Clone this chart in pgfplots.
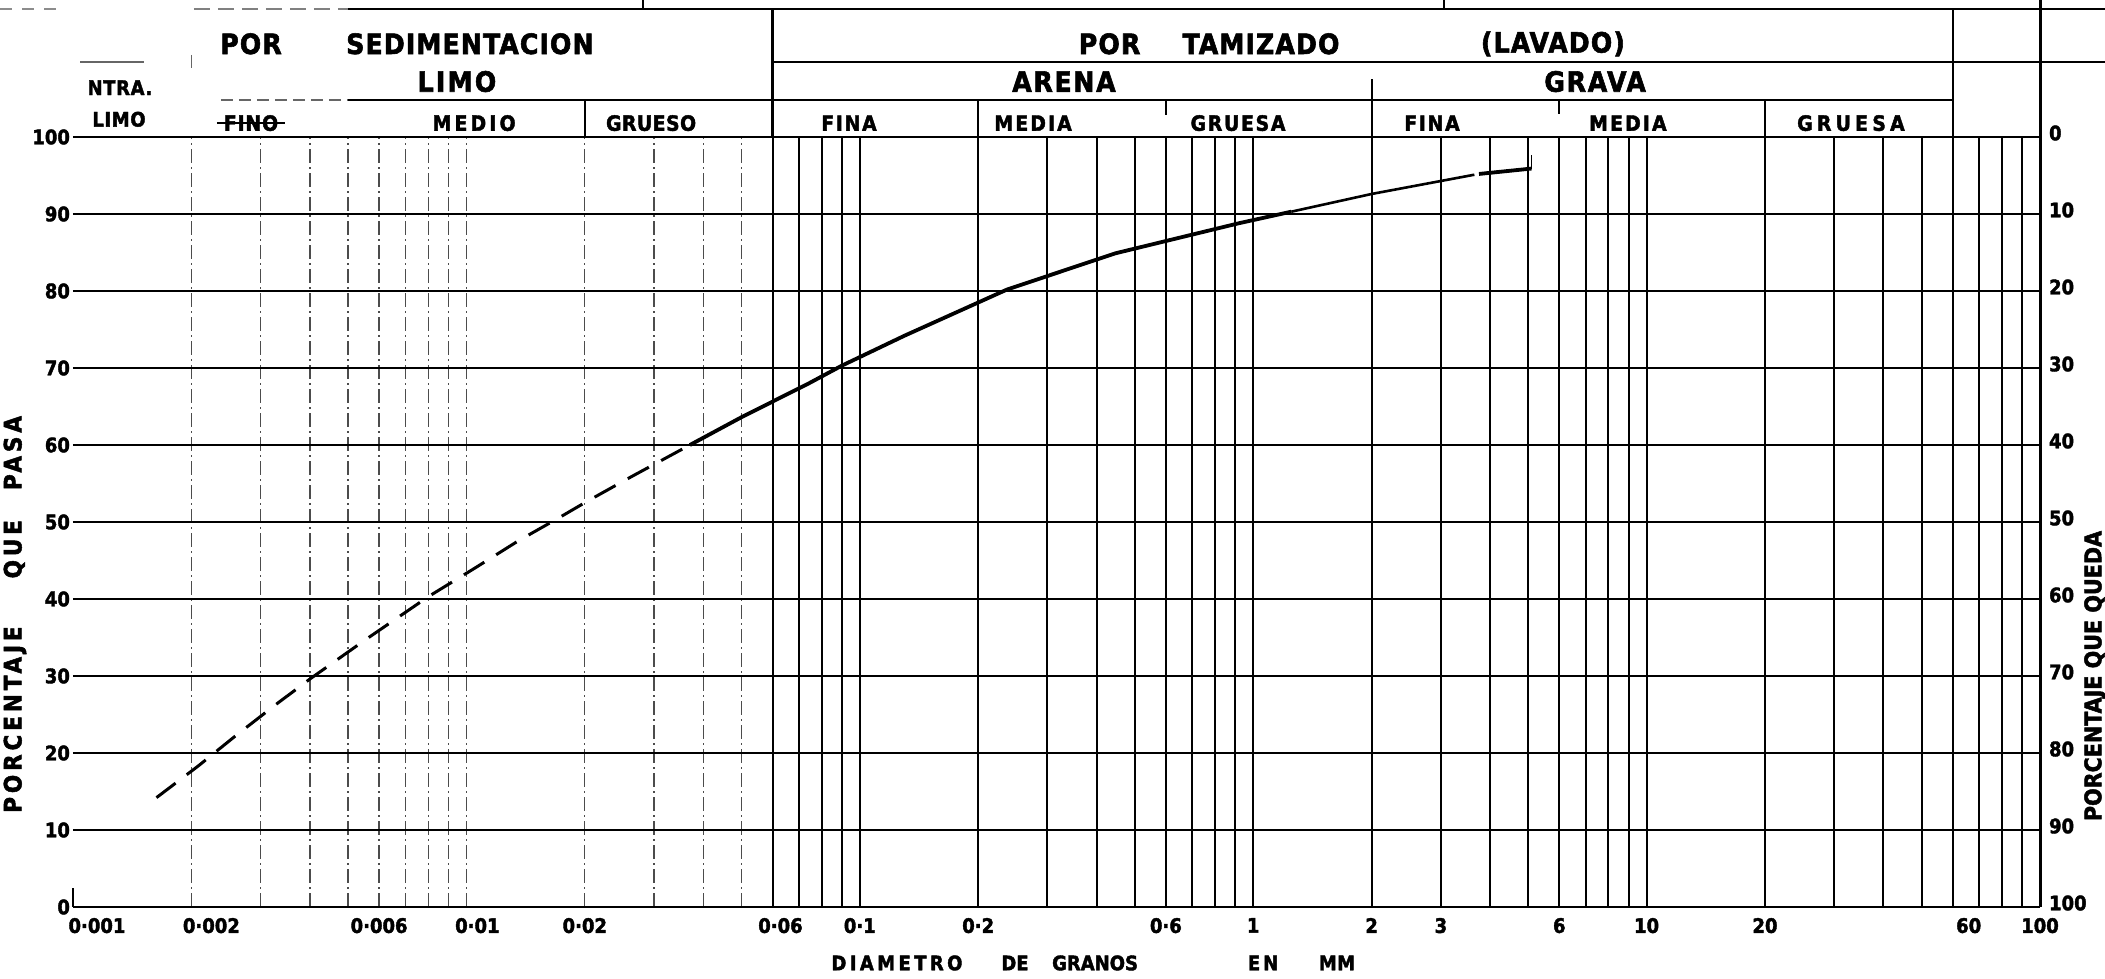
\documentclass[border=0pt]{standalone}
\usepackage{fontspec}
\setmainfont{DejaVu Sans}
\newfontfamily\cf{DejaVu Sans Condensed}
\usepackage{pgfplots}
\pgfplotsset{compat=1.18}
\usetikzlibrary{calc}

\newcommand\LT[3]{{\cf\fontsize{#1}{#1}\selectfont\bfseries\addfontfeatures{LetterSpace=#2,FakeBold=2}#3}}
\newcommand\tickfont{\cf\fontsize{10}{10}\selectfont\bfseries\addfontfeatures{FakeBold=2}}

\begin{document}
\begin{tikzpicture}
\begin{axis}[
  at={(0,0)}, anchor=south west,
  scale only axis, width=983.5pt, height=385pt,
  xmode=log, xmin=0.001, xmax=100, ymin=0, ymax=100,
  clip=false,
  axis x line*=bottom, axis y line*=left,
  axis line style={draw=none},
  major tick length=0pt, minor tick length=0pt,
  /pgf/number format/assume math mode=true,
  xtick={0.001,0.002,0.006,0.01,0.02,0.06,0.1,0.2,0.6,1,2,3,6,10,20,60,100},
  xticklabels={\hspace{24pt}0·001,\hspace{20pt}0·002,0·006,\hspace{11pt}0·01,0·02,\hspace{8pt}0·06,0·1\hspace{19pt},0·2\hspace{7pt},0·6,1\hspace{8pt},2\hspace{9pt},3\hspace{11pt},6\hspace{11pt},10,20,\hspace{16pt}60,100},
  xticklabel style={font=\tickfont, yshift=-2pt},
  ytick={0,10,...,100},
  yticklabel style={font=\tickfont, xshift=2pt},
  xmajorgrids=false, xminorgrids=true, ymajorgrids=true,
  minor xtick={0.002,0.003,0.004,0.005,0.006,0.007,0.008,0.009,0.01,0.02,0.03,0.04,0.05},
  minor grid style={black!70, line width=0.7pt, dash pattern=on 7pt off 2pt on 1pt off 2pt},
  major grid style={black, line width=1.1pt},
  extra x ticks={0.06,0.07,0.08,0.09,0.1,0.2,0.3,0.4,0.5,0.6,0.7,0.8,0.9,1,2,3,4,5,6,7,8,9,10,20,30,40,50,60,70,80,90},
  extra x tick labels={},
  extra x tick style={xmajorgrids=true, xticklabel={}, major grid style={black, line width=1pt}},
]
\coordinate (SW) at (rel axis cs:0,0);

% grain size curve
\addplot[black, line width=1.5pt, dash pattern=on 12pt off 7pt] coordinates {
 (0.00163,14.2) (0.00208,18.3) (0.0026,22.3) (0.0033,26.4) (0.0040,29.6)
 (0.0055,34.6) (0.0080,40.3) (0.0105,44.0) (0.0136,47.6) (0.0170,50.4)
 (0.0203,52.7) (0.0263,55.9) (0.0370,60.0)};
\addplot[black, line width=1.9pt, line join=round] coordinates {
 (0.037,60.0) (0.050,63.6) (0.0742,68.0) (0.090,70.3) (0.130,74.2)
 (0.237,80.2) (0.447,84.9) (0.92,88.8) (1.25,90.3)};
\addplot[black, line width=1.3pt, line join=round] coordinates {
 (1.25,90.3) (2.0,92.6) (3.65,95.1)};
\addplot[black, line width=1.9pt] coordinates {(3.75,95.2) (5.1,95.9)};
\addplot[black, line width=0.8pt] coordinates {(5.1,95.9) (5.1,97.7)};

% frame pieces
\draw[line width=0.9pt] (axis cs:0.001,0) -- (axis cs:0.001,2.5);
\draw[line width=1.5pt] (rel axis cs:1,0) -- (rel axis cs:1,1.178);
% header lines
\draw[black!45, line width=0.8pt, dash pattern=on 6pt off 5pt] (rel axis cs:-0.037,1.166) -- (rel axis cs:-0.008,1.166);
\draw[black!50, line width=0.8pt, dash pattern=on 8pt off 4pt] (rel axis cs:0.0615,1.166) -- (rel axis cs:0.14,1.166);
\draw[line width=1.1pt] (rel axis cs:0.14,1.166) -- (rel axis cs:1.04,1.166);
\draw[line width=0.8pt] (rel axis cs:0.2898,1.166) -- (rel axis cs:0.2898,1.178);
\draw[line width=0.8pt] (rel axis cs:0.697,1.166) -- (rel axis cs:0.697,1.178);
\draw[black!60, line width=0.8pt] (rel axis cs:0.0036,1.0974) -- (rel axis cs:0.0361,1.0974);
\draw[line width=1pt] (rel axis cs:0.3556,1.0974) -- (rel axis cs:1.04,1.0974);
\draw[black!60, line width=0.8pt, dash pattern=on 6pt off 3pt] (rel axis cs:0.0752,1.048) -- (rel axis cs:0.14,1.048);
\draw[line width=1pt] (rel axis cs:0.14,1.048) -- (rel axis cs:0.9556,1.048);
\draw[black!60, line width=0.7pt] (rel axis cs:0.0602,1.1065) -- (rel axis cs:0.0602,1.0896);
% dividers
\draw[line width=1.1pt] (rel axis cs:0.3556,1.166) -- (rel axis cs:0.3556,1.0);
\draw[line width=1.1pt] (rel axis cs:0.9556,1.166) -- (rel axis cs:0.9556,1.0);
\draw[line width=1pt] (rel axis cs:0.6602,1.075) -- (rel axis cs:0.6602,1.0);
\draw[line width=0.9pt] (rel axis cs:0.2602,1.048) -- (rel axis cs:0.2602,1.0);
\draw[line width=0.9pt] (rel axis cs:0.4602,1.048) -- (rel axis cs:0.4602,1.0);
\draw[line width=0.9pt] (rel axis cs:0.5556,1.048) -- (rel axis cs:0.5556,1.028);
\draw[line width=0.9pt] (rel axis cs:0.7556,1.048) -- (rel axis cs:0.7556,1.03);
\draw[line width=0.9pt] (rel axis cs:0.8602,1.048) -- (rel axis cs:0.8602,1.0);

% header texts row 1
\node at (rel axis cs:0.0905,1.121) {\LT{14}{4}{POR}};
\node at (rel axis cs:0.2018,1.121) {\LT{14}{4}{SEDIMENTACION}};
\node at (rel axis cs:0.527,1.121) {\LT{14}{4}{POR}};
\node at (rel axis cs:0.6040,1.121) {\LT{14}{4}{TAMIZADO}};
\node at (rel axis cs:0.7524,1.121) {\LT{14}{4}{(LAVADO)}};
% row 2
\node at (rel axis cs:0.0239,1.064) {\LT{10}{3}{NTRA.}};
\node at (rel axis cs:0.1952,1.072) {\LT{14}{8}{LIMO}};
\node at (rel axis cs:0.5038,1.072) {\LT{14}{6}{ARENA}};
\node at (rel axis cs:0.7738,1.072) {\LT{14}{6}{GRAVA}};
% row 3
\node at (rel axis cs:0.0234,1.023) {\LT{10}{3}{LIMO}};
\node (fino) at (rel axis cs:0.0905,1.018) {\LT{10.5}{4}{FINO}};
\draw[line width=0.8pt] (fino.west) -- (fino.east);
\node at (rel axis cs:0.2039,1.018) {\LT{10.5}{15}{MEDIO}};
\node at (rel axis cs:0.2939,1.018) {\LT{10.5}{2}{GRUESO}};
\node at (rel axis cs:0.3945,1.018) {\LT{10.5}{8}{FINA}};
\node at (rel axis cs:0.4881,1.018) {\LT{10.5}{10}{MEDIA}};
\node at (rel axis cs:0.5923,1.018) {\LT{10.5}{8}{GRUESA}};
\node at (rel axis cs:0.6909,1.018) {\LT{10.5}{8}{FINA}};
\node at (rel axis cs:0.7905,1.018) {\LT{10.5}{10}{MEDIA}};
\node at (rel axis cs:0.9039,1.018) {\LT{10.5}{20}{GRUESA}};

% axis titles
\node[rotate=90] at (rel axis cs:-0.0295,0.38) {\LT{12}{16}{PORCENTAJE}\hspace{24pt}\LT{12}{16}{QUE}\hspace{15pt}\LT{12}{16}{PASA}};
\node[rotate=90] at (rel axis cs:1.028,0.30) {\LT{11.5}{0}{PORCENTAJE QUE QUEDA}};
\node at (rel axis cs:0.4189,-0.0727) {\LT{10}{17}{DIAMETRO}};
\node at (rel axis cs:0.4789,-0.0727) {\LT{10}{0}{DE}};
\node at (rel axis cs:0.5196,-0.0727) {\LT{10}{0}{GRANOS}};
\node at (rel axis cs:0.605,-0.0727) {\LT{10}{15}{EN}};
\node at (rel axis cs:0.6426,-0.0727) {\LT{10}{2}{MM}};
\end{axis}

\begin{axis}[
  at={(0,0)}, anchor=south west,
  scale only axis, width=983.5pt, height=385pt,
  xmode=log, xmin=0.001, xmax=100, ymin=0, ymax=100,
  y dir=reverse, hide x axis, axis y line*=right,
  axis line style={draw=none}, major tick length=0pt,
  ytick={0,10,...,100},
  /pgf/number format/assume math mode=true,
  yticklabel style={font=\tickfont, anchor=west, xshift=1pt, yshift=2pt},
]
\addplot[draw=none] coordinates {(1,50)};
\end{axis}

\pgfresetboundingbox
\path ($(SW)+(-36.5pt,-36pt)$) rectangle ($(SW)+(1016pt,453.5pt)$);
\end{tikzpicture}
\end{document}
